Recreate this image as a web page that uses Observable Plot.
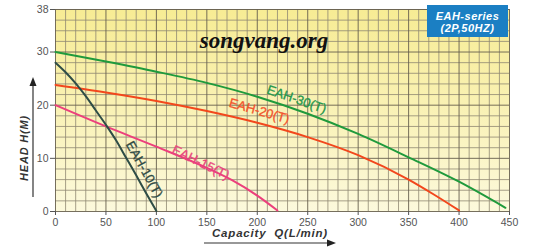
<!DOCTYPE html>
<html>
<head>
<meta charset="utf-8">
<script src="https://cdn.jsdelivr.net/npm/d3@7"></script>
<script src="https://cdn.jsdelivr.net/npm/@observablehq/plot@0.6"></script>
<style>
  html, body { margin: 0; padding: 0; background: #fff; }
  #chart { width: 540px; height: 252px; }
</style>
</head>
<body>
<div id="chart"></div>
<script>
// ---- Data ----
const q30 = [0, 50, 100, 150, 200, 250, 300, 350, 400, 446];
const h30 = [30, 28.2, 26.3, 24.2, 21.6, 18.4, 14.6, 10.2, 5.6, 0.7];

const q20 = [0, 50, 100, 150, 200, 250, 300, 350, 375, 400];
const h20 = [23.8, 22.4, 20.8, 18.9, 16.7, 14.0, 10.6, 6.0, 3.2, 0.2];

const q15 = [0, 50, 100, 150, 175, 200, 220];
const h15 = [20, 16, 12.2, 8.2, 5.9, 3.0, 0.2];

const q10 = [0, 10, 20, 30, 40, 50, 60, 70, 80, 90, 100];
const h10 = [28, 26.2, 24.1, 21.7, 19, 16.3, 13.4, 10.1, 6.8, 3.4, 0.1];

const seriesNames = ["EAH-30(T)", "EAH-20(T)", "EAH-15(T)", "EAH-10(T)"];
const xTicks = [0, 50, 100, 150, 200, 250, 300, 350, 400, 450];
const yTicks = [0, 10, 20, 30, 38];

// label anchor points (data coordinates) and angles
const labelQ = [239, 202, 144, 88];
const labelH = [21.1, 18.9, 9.2, 7.9];
const labelAngle = [19, 16, 26, 61];

const colors = ["#1f9a3c", "#f2471c", "#ec3f7c", "#2e4d46"];
const textColors = ["#23964a", "#f2542c", "#e8447c", "#2e4a44"];

// ---- Build tables ----
const curves = [
  ...q30.map((q, i) => ({s: seriesNames[0], q, h: h30[i]})),
  ...q20.map((q, i) => ({s: seriesNames[1], q, h: h20[i]})),
  ...q15.map((q, i) => ({s: seriesNames[2], q, h: h15[i]})),
  ...q10.map((q, i) => ({s: seriesNames[3], q, h: h10[i]}))
];
const labels = seriesNames.map((s, i) => ({s, q: labelQ[i], h: labelH[i], a: labelAngle[i], c: textColors[i]}));

const xGrid = d3.range(0, 451, 10);
const yGrid = d3.range(0, 39, 2);

const defs = () => {
  const g = d3.create("svg:defs");
  const lg = g.append("linearGradient").attr("id", "bg").attr("x1", 0).attr("y1", 0).attr("x2", 0).attr("y2", 1);
  lg.append("stop").attr("offset", "0%").attr("stop-color", "#f7ec94");
  lg.append("stop").attr("offset", "45%").attr("stop-color", "#f9f1b2");
  lg.append("stop").attr("offset", "100%").attr("stop-color", "#fcf9dc");
  return g.node();
};

const chart = Plot.plot({
  width: 540,
  height: 252,
  marginLeft: 55,
  marginRight: 31,
  marginTop: 9,
  marginBottom: 41,
  style: {fontFamily: "'Liberation Sans', Arial, sans-serif", background: "transparent"},
  x: {domain: [0, 450]},
  y: {domain: [0, 38]},
  color: {domain: seriesNames, range: colors},
  marks: [
    defs,
    Plot.frame({fill: "url(#bg)", stroke: null}),
    Plot.ruleX(xGrid.filter(d => d % 50 !== 0), {stroke: "#8f8872", strokeWidth: 0.8}),
    Plot.ruleY(yGrid.filter(d => d % 10 !== 0), {stroke: "#8f8872", strokeWidth: 0.8}),
    Plot.ruleX(xGrid.filter(d => d % 50 === 0), {stroke: "#665f4d", strokeWidth: 0.9}),
    Plot.ruleY(yGrid.filter(d => d % 10 === 0), {stroke: "#665f4d", strokeWidth: 0.9}),
    Plot.ruleY([38], {stroke: "#665f4d", strokeWidth: 0.9}),
    Plot.axisY({ticks: yTicks, tickSize: 5, tickPadding: 2, fontSize: 10.5, color: "#555", label: null}),
    Plot.axisX({ticks: xTicks, tickSize: 4, tickPadding: 3, fontSize: 10.5, color: "#555", label: null}),
    Plot.line(curves, {x: "q", y: "h", z: "s", stroke: "s", strokeWidth: 2, curve: "monotone-x"}),
    Plot.text(labels, {x: "q", y: "h", text: "s", rotate: "a", fill: "c", stroke: "c", strokeWidth: 0.3, fontSize: 13, textAnchor: "middle", letterSpacing: "0.4px"})
  ]
});

const root = d3.select(chart);
// watermark
root.append("text")
  .attr("x", 264).attr("y", 48)
  .attr("text-anchor", "middle")
  .attr("font-family", "'Liberation Serif', 'Times New Roman', serif")
  .attr("font-weight", "bold").attr("font-style", "italic")
  .attr("font-size", 23).attr("fill", "#111")
  .text("songvang.org");

// legend box
const lb = root.append("g");
lb.append("rect").attr("x", 427).attr("y", 5).attr("width", 81).attr("height", 32).attr("fill", "#1b7fc3");
lb.append("text").attr("x", 467.5).attr("y", 20).attr("text-anchor", "middle")
  .attr("font-weight", "bold").attr("font-style", "italic").attr("font-size", 11).attr("fill", "#fff")
  .attr("letter-spacing", "0.5px").text("EAH-series");
lb.append("text").attr("x", 467.5).attr("y", 32).attr("text-anchor", "middle")
  .attr("font-weight", "bold").attr("font-style", "italic").attr("font-size", 11).attr("fill", "#fff")
  .attr("letter-spacing", "0.5px").text("(2P,50HZ)");

// axis titles with arrows
root.append("text")
  .attr("transform", "translate(28,148) rotate(-90)")
  .attr("text-anchor", "middle")
  .attr("font-weight", "bold").attr("font-style", "italic").attr("font-size", 11).attr("fill", "#333")
  .attr("letter-spacing", "0.8px")
  .text("HEAD H(M)");
root.append("line").attr("x1", 33).attr("y1", 197).attr("x2", 33).attr("y2", 84)
  .attr("stroke", "#333").attr("stroke-width", 1.2);
root.append("path").attr("d", "M33,77 L29.5,86 L36.5,86 Z").attr("fill", "#222");

root.append("text")
  .attr("x", 270).attr("y", 237)
  .attr("text-anchor", "middle")
  .attr("font-weight", "bold").attr("font-style", "italic").attr("font-size", 11.5).attr("fill", "#333")
  .attr("letter-spacing", "0.8px")
  .text("Capacity  Q(L/min)");
root.append("line").attr("x1", 204).attr("y1", 243).attr("x2", 328).attr("y2", 243)
  .attr("stroke", "#333").attr("stroke-width", 1.2);
root.append("path").attr("d", "M336,243 L327,239.5 L327,246.5 Z").attr("fill", "#222");

document.getElementById("chart").appendChild(chart);
</script>
</body>
</html>
